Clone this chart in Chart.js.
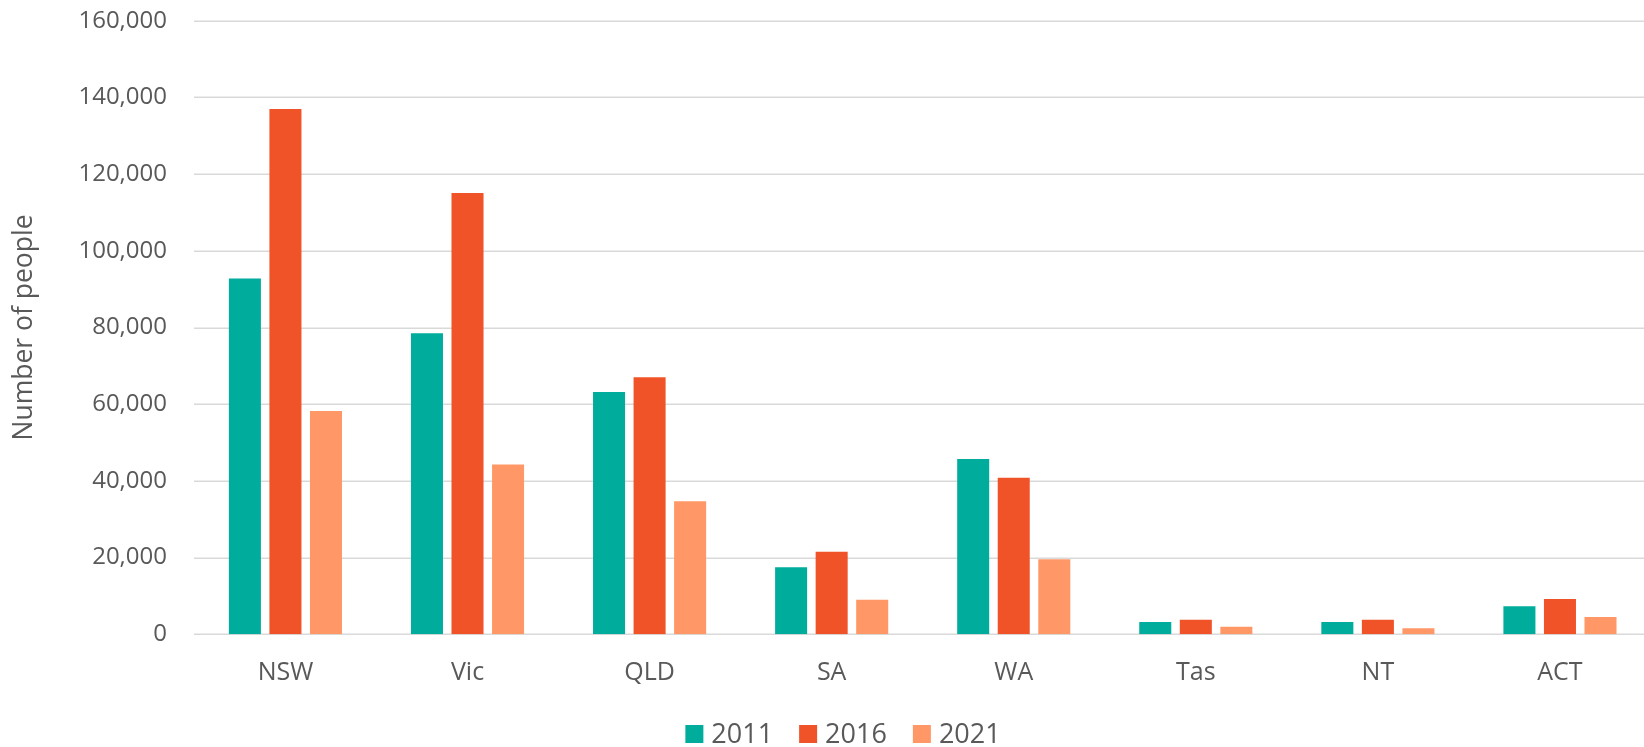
<!DOCTYPE html>
<html>
<head>
<meta charset="utf-8">
<script src="https://cdn.jsdelivr.net/npm/chart.js@4.4.1/dist/chart.umd.min.js"></script>
<style>
    html, body { margin: 0; padding: 0; background: #fff; overflow: hidden; }
    /* the original plot runs a few pixels past the right edge of the picture */
    #wrap { width: 1651px; height: 747px; position: relative; }
</style>
</head>
<body>
<div id="wrap"><canvas id="peopleChart"></canvas></div>
<script>
const states = ['NSW', 'Vic', 'QLD', 'SA', 'WA', 'Tas', 'NT', 'ACT'];
const years = ['2011', '2016', '2021'];

const values2011 = [92800, 78500, 63200, 17500, 45700, 3200, 3200, 7300];
const values2016 = [137000, 115100, 67000, 21500, 40800, 3800, 3800, 9200];
const values2021 = [58200, 44300, 34700, 9000, 19600, 2000, 1600, 4500];

const yTicks = [0, 20000, 40000, 60000, 80000, 100000, 120000, 140000, 160000];

const colors = ['#00ac9c', '#f05327', '#ff9866'];
const textColor = '#595959';
const gridColor = '#d9d9d9';
const fontFamily = 'Open Sans';

// gridlines start left of the first category and run to the edge
const wideGrid = {
    id: 'wideGrid',
    beforeDatasetsDraw(chart){
        const { ctx, scales } = chart;
        const y = scales.y;
        ctx.save();
        ctx.strokeStyle = gridColor;
        ctx.lineWidth = 1.5;
        yTicks.forEach(v => {
            const py = Math.round(y.getPixelForValue(v)) + 0.25;
            ctx.beginPath();
            ctx.moveTo(194, py);
            ctx.lineTo(chart.width, py);
            ctx.stroke();
        });
        ctx.restore();
    }
};

// ---- legend drawn by hand: square, small gap, label ----
const bottomLegend = {
    id: 'bottomLegend',
    afterDraw(chart){
        const { ctx } = chart;
        const box = 18, gap = 8, itemGap = 26;
        const cy = 734;
        ctx.save();
        ctx.font = `27px "${fontFamily}"`;
        ctx.textBaseline = 'middle';
        const items = chart.data.datasets.map(ds => ({
            text: ds.label,
            color: ds.backgroundColor,
            w: box + gap + ctx.measureText(ds.label).width
        }));
        const total = items.reduce((s, it) => s + it.w, 0) + itemGap * (items.length - 1);
        let x = 843 - total / 2;
        items.forEach(it => {
            ctx.fillStyle = it.color;
            ctx.fillRect(x, cy - box / 2, box, box);
            ctx.fillStyle = textColor;
            ctx.fillText(it.text, x + box + gap, cy + 1);
            x += it.w + itemGap;
        });
        ctx.restore();
    }
};

const ctx = document.getElementById('peopleChart').getContext('2d');

new Chart(ctx, {
    type: 'bar',
    data: {
        labels: states,
        datasets: [
            { label: years[0], data: values2011, backgroundColor: colors[0] },
            { label: years[1], data: values2016, backgroundColor: colors[1] },
            { label: years[2], data: values2021, backgroundColor: colors[2] }
        ]
    },
    options: {
        responsive: true,
        maintainAspectRatio: false,
        animation: false,
        categoryPercentage: 0.668,
        barPercentage: 0.79,
        layout: {
            padding: { top: 0, right: 0, bottom: 40, left: 0 }
        },
        plugins: {
            legend: { display: false },
            tooltip: { enabled: false }
        },
        scales: {
            x: {
                grid: { display: false, drawTicks: false },
                border: { display: false },
                ticks: {
                    color: textColor,
                    font: { family: fontFamily, size: 25 },
                    padding: 24
                },
                afterFit(scale){
                    scale.height = 72.7;
                    scale.paddingLeft = 0;
                    scale.paddingRight = 0;
                }
            },
            y: {
                min: 0,
                max: 160000,
                grid: { display: false, drawTicks: false },
                border: { display: false },
                afterBuildTicks(scale){
                    scale.ticks = yTicks.map(v => ({ value: v }));
                },
                ticks: {
                    color: textColor,
                    font: { family: fontFamily, size: 24 },
                    padding: 27.4,
                    callback: v => v.toLocaleString('en-US')
                },
                title: {
                    display: true,
                    text: 'Number of people',
                    color: textColor,
                    font: { family: fontFamily, size: 26.5 },
                    padding: { top: 9, bottom: 4 }
                },
                afterFit(scale){
                    scale.width = 194.4;
                    scale.paddingTop = 20.7;
                    scale.paddingBottom = 0;
                }
            }
        }
    },
    plugins: [wideGrid, bottomLegend]
});
</script>
</body>
</html>
